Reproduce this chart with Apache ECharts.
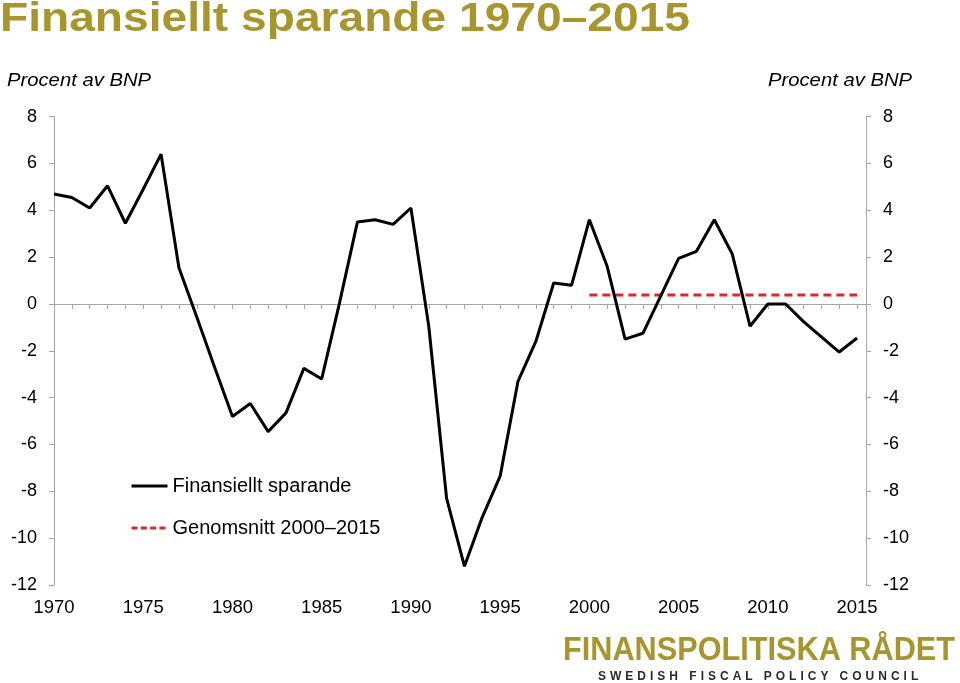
<!DOCTYPE html>
<html>
<head>
<meta charset="utf-8">
<script src="https://cdn.jsdelivr.net/npm/echarts@6/dist/echarts.min.js"></script>
<style>
html,body{margin:0;padding:0;background:#fff;}
#chart{width:960px;height:683px;position:relative;}
#sub{position:absolute;left:598px;top:670px;font-family:"Liberation Sans",Arial,sans-serif;font-size:12px;font-weight:bold;letter-spacing:4.0px;color:#2a2a2a;white-space:nowrap;line-height:13px;}
</style>
</head>
<body>
<div id="chart"></div>
<div id="sub">SWEDISH FISCAL POLICY COUNCIL</div>
<script>
// ---- data ----
const years = [1970,1971,1972,1973,1974,1975,1976,1977,1978,1979,
               1980,1981,1982,1983,1984,1985,1986,1987,1988,1989,
               1990,1991,1992,1993,1994,1995,1996,1997,1998,1999,
               2000,2001,2002,2003,2004,2005,2006,2007,2008,2009,
               2010,2011,2012,2013,2014,2015];
const sparande = [4.7,4.55,4.1,5.05,3.45,4.9,6.4,1.55,-0.55,-2.7,
                  -4.8,-4.25,-5.45,-4.65,-2.75,-3.2,0.05,3.5,3.6,3.4,
                  4.1,-0.95,-8.3,-11.2,-9.1,-7.35,-3.3,-1.6,0.9,0.8,
                  3.6,1.6,-1.5,-1.25,0.35,1.95,2.25,3.6,2.15,-0.95,
                  0.0,0.0,-0.75,-1.4,-2.05,-1.45];
const avgYears = [2000,2001,2002,2003,2004,2005,2006,2007,2008,2009,2010,2011,2012,2013,2014,2015];
const avgValues = [0.38,0.38,0.38,0.38,0.38,0.38,0.38,0.38,0.38,0.38,0.38,0.38,0.38,0.38,0.38,0.38];
const yTicks = {min:-12, max:8, step:2};
const xLabelStep = 5;
const titleText = 'Finansiellt sparande 1970–2015';
const unitText = 'Procent av BNP';
const seriesNames = ['Finansiellt sparande','Genomsnitt 2000–2015'];
const logoText = 'FINANSPOLITISKA RÅDET';

// ---- chart ----
const GOLD = '#A8952E';
const AXIS = '#A6A6A6';
const RED = '#E0262B';
const FONT = '"Liberation Sans", Arial, sans-serif';

const cvs = document.createElement('canvas').getContext('2d');
cvs.font = 'bold 33px ' + FONT;
const logoScale = 392 / cvs.measureText(logoText).width;
cvs.font = 'bold 40px ' + FONT;
const titleScale = 690 / cvs.measureText(titleText).width;
cvs.font = 'italic 18.5px ' + FONT;
const unitScale = 144 / cvs.measureText(unitText).width;

const chart = echarts.init(document.getElementById('chart'), null, {renderer:'canvas'});
const yAxisBase = {
  type:'value', min:yTicks.min, max:yTicks.max, interval:yTicks.step,
  axisLine:{show:true, lineStyle:{color:AXIS, width:1}},
  axisTick:{show:true, length:5, lineStyle:{color:AXIS}},
  splitLine:{show:false},
  axisLabel:{fontSize:18, color:'#000', fontFamily:FONT}
};
chart.setOption({
  animation:false,
  textStyle:{fontFamily:FONT},
  grid:{left:54, right:94, top:116.7, bottom:98, containLabel:false},
  graphic:[
    {type:'text', x:0, y:20, scaleX:titleScale, originX:0, style:{text:titleText, font:'bold 40px ' + FONT, fill:GOLD, verticalAlign:'middle', textAlign:'left'}},
    {type:'text', x:7, y:80.5, scaleX:unitScale, originX:0, style:{text:unitText, font:'italic 18.5px ' + FONT, fill:'#000', verticalAlign:'middle', textAlign:'left'}},
    {type:'text', x:912, y:80.5, scaleX:unitScale, originX:0, style:{text:unitText, font:'italic 18.5px ' + FONT, fill:'#000', verticalAlign:'middle', textAlign:'right'}},
    {type:'text', x:563, y:651, scaleX:logoScale, originX:0, style:{text:logoText, font:'bold 33px ' + FONT, fill:GOLD, verticalAlign:'middle', textAlign:'left'}}
  ],
  legend:{
    orient:'vertical', left:130, top:476, padding:0, itemWidth:36, itemHeight:14, itemGap:22,
    itemStyle:{opacity:0},
    textStyle:{fontSize:20, color:'#000', fontFamily:FONT},
    data:[
      {name:seriesNames[0], lineStyle:{color:'#000', width:3, type:'solid'}},
      {name:seriesNames[1], lineStyle:{color:RED, width:3, type:[6,3.3]}}
    ]
  },
  xAxis:[
    {type:'value', min:years[0], max:years[years.length-1]+0.5, interval:1,
     axisLine:{show:true, onZero:true, lineStyle:{color:AXIS, width:1}},
     axisTick:{show:true, length:5, lineStyle:{color:AXIS}},
     axisLabel:{show:false}, splitLine:{show:false}},
    {type:'value', min:years[0], max:years[years.length-1]+0.5, interval:xLabelStep, position:'bottom',
     axisLine:{show:false, onZero:false}, axisTick:{show:false}, splitLine:{show:false},
     axisLabel:{fontSize:18.5, color:'#000', margin:13, fontFamily:FONT,
       formatter:v => (v % xLabelStep === 0 ? String(v) : '')}}
  ],
  yAxis:[
    Object.assign({}, yAxisBase, {position:'left', axisLabel:Object.assign({}, yAxisBase.axisLabel, {margin:17})}),
    Object.assign({}, yAxisBase, {position:'right', axisLabel:Object.assign({}, yAxisBase.axisLabel, {margin:17})})
  ],
  series:[
    {name:seriesNames[0], type:'line', xAxisIndex:0, yAxisIndex:0, symbol:'none', z:5,
     lineStyle:{color:'#000', width:3}, itemStyle:{color:'#000'},
     data:years.map((y,i)=>[y, sparande[i]])},
    {name:seriesNames[1], type:'line', xAxisIndex:0, yAxisIndex:0, symbol:'none', z:4,
     lineStyle:{color:RED, width:3, type:[8,5]}, itemStyle:{color:RED},
     data:avgYears.map((y,i)=>[y, avgValues[i]])}
  ]
});
</script>
</body>
</html>
